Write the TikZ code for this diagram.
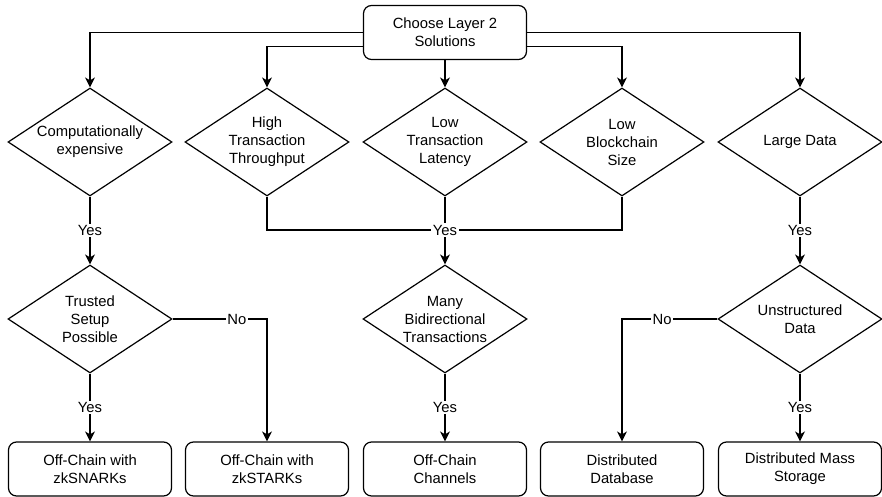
\documentclass[tikz,border=0pt]{standalone}
\usepackage{fontspec}
\setmainfont{Liberation Sans}
\usetikzlibrary{shapes.geometric,arrows.meta}

\begin{document}
\begin{tikzpicture}[x=1pt,y=-1pt,
    every node/.style={font=\fontsize{14.8}{18}\selectfont, align=center},
    box/.style={draw, line width=1.2pt, rounded corners=8pt, minimum width=163pt, minimum height=54pt, inner sep=0pt},
    dec/.style={draw, line width=1.2pt, shape=diamond, aspect=1.52, minimum width=164pt, minimum height=108pt, inner sep=-1pt},
    flow/.style={line width=1.2pt, -{Stealth[length=10pt,width=10pt,inset=3pt]}},
    link/.style={line width=1.2pt},
    lbl/.style={fill=white, inner sep=1.5pt}]
    \useasboundingbox (0,0) rectangle (882,497);

    % Start
    \node[box] (start) at (445,32.5) {Choose Layer 2\\Solutions};

    % Decisions, first row
    \node[dec] (comp) at (90,142) {Computationally\\expensive};
    \node[dec] (high) at (267,142) {High\\Transaction\\Throughput};
    \node[dec] (lat) at (445,142) {Low\\Transaction\\Latency};
    \node[dec] (size) at (622,142) {Low\\Blockchain\\Size};
    \node[dec] (large) at (800,142) {Large Data};

    % Decisions, second row
    \node[dec] (trust) at (90,319) {Trusted\\Setup\\Possible};
    \node[dec] (many) at (445,319) {Many\\Bidirectional\\Transactions};
    \node[dec] (unstr) at (800,319) {Unstructured\\Data};

    % Results
    \node[box] (snark) at (90,469) {Off-Chain with\\zkSNARKs};
    \node[box] (stark) at (267,469) {Off-Chain with\\zkSTARKs};
    \node[box] (chan) at (445,469) {Off-Chain\\Channels};
    \node[box] (db) at (622,469) {Distributed\\Database};
    \node[box] (mass) at (800,469) {Distributed Mass\\Storage};

    \coordinate (join) at (445,230);

    % Connectors from the start
    \draw[flow] (start.west) -| (comp.north);
    \draw[flow] ([yshift=-14pt]start.west) -| (high.north);
    \draw[flow] (start.south) -- (lat.north);
    \draw[flow] ([yshift=-14pt]start.east) -| (size.north);
    \draw[flow] (start.east) -| (large.north);

    % Yes branches
    \draw[flow] (comp.south) -- node[lbl] {Yes} (trust.north);
    \draw[link] (high.south) |- (join);
    \draw[link] (size.south) |- (join);
    \draw[link] (lat.south) -- (join);
    \draw[flow] (join) -- (many.north);
    \node[lbl] (yesjoin) at (join) {Yes};
    \draw[flow] (large.south) -- node[lbl] {Yes} (unstr.north);

    \draw[flow] (trust.south) -- node[lbl] {Yes} (snark.north);
    \draw[flow] (trust.east) -| node[lbl, pos=0.34] {No} (stark.north);
    \draw[flow] (many.south) -- node[lbl] {Yes} (chan.north);
    \draw[flow] (unstr.west) -| node[lbl, pos=0.29] {No} (db.north);
    \draw[flow] (unstr.south) -- node[lbl] {Yes} (mass.north);

\end{tikzpicture}
\end{document}
